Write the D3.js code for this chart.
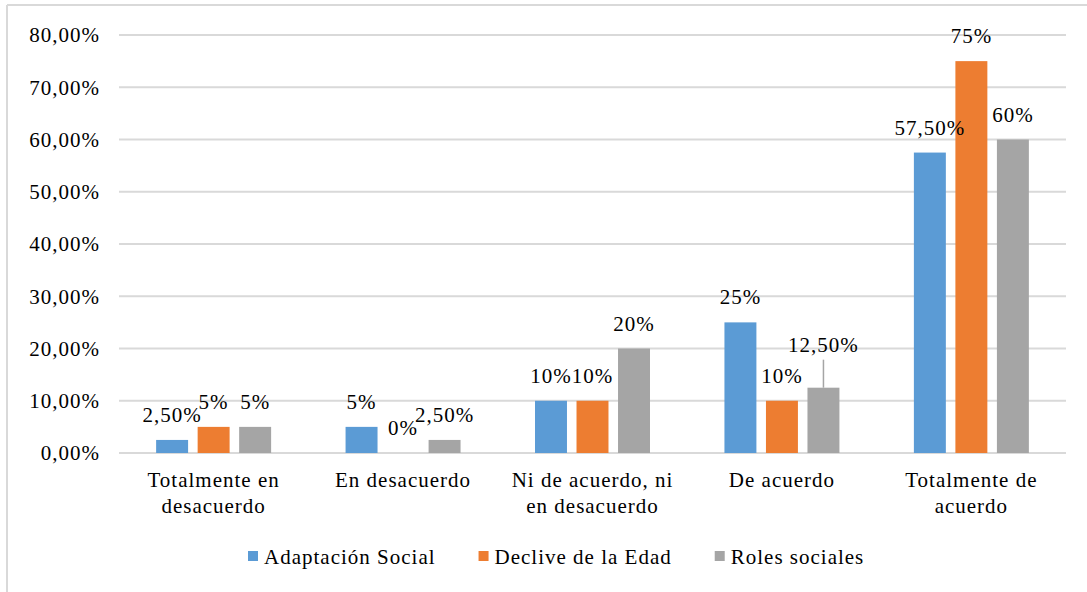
<!DOCTYPE html>
<html>
<head>
<meta charset="utf-8">
<script src="https://cdn.jsdelivr.net/npm/d3@7"></script>
</head>
<body style="margin:0;background:#fff">
<script>
// data
var categories=[['Totalmente en','desacuerdo'],['En desacuerdo'],['Ni de acuerdo, ni','en desacuerdo'],['De acuerdo'],['Totalmente de','acuerdo']];
var series=['Adaptación Social','Declive de la Edad','Roles sociales'];
var colors=['#5b9bd5','#ed7d31','#a5a5a5'];
var adaptacion=[2.5,5,10,25,57.5];
var declive=[5,0,10,10,75];
var roles=[5,2.5,20,12.5,60];
var yticks=[0,10,20,30,40,50,60,70,80];
var values=[adaptacion,declive,roles];
// layout
var wid=1087, hgh=592;
var pleft=119, pright=1066, ptop=35, pbottom=453;
var movedlab={s:2,c:3,lift:18}; // label pulled up with leader line

var svg=d3.select('body').append('svg').attr('width',wid).attr('height',hgh)
  .style('font-family',"'Liberation Serif','Times New Roman',Tinos,serif")
  .style('font-size','21px').style('letter-spacing','1px');
// outer frame (top + left only visible)
svg.append('line').attr('x1',7).attr('y1',5).attr('x2',wid).attr('y2',5).attr('stroke','#d9d9d9').attr('stroke-width',2);
svg.append('line').attr('x1',7).attr('y1',5).attr('x2',7).attr('y2',hgh).attr('stroke','#d9d9d9').attr('stroke-width',2);

var y=d3.scaleLinear().domain([0,80]).range([pbottom,ptop]);
var x0=d3.scaleBand().domain(d3.range(categories.length)).range([pleft,pright]).paddingInner(0.393).paddingOuter(0.196);
var x1=d3.scaleBand().domain(d3.range(series.length)).range([0,x0.bandwidth()]).paddingInner(0.23).paddingOuter(0);

// gridlines
svg.selectAll('line.grid').data(yticks).enter().append('line').attr('class','grid')
  .attr('x1',pleft).attr('x2',pright).attr('y1',function(d){return y(d);}).attr('y2',function(d){return y(d);})
  .attr('stroke','#d9d9d9').attr('stroke-width',2);
// y tick labels
svg.selectAll('text.ytick').data(yticks).enter().append('text').attr('class','ytick')
  .attr('x',100).attr('y',function(d){return y(d);}).attr('dy','0.35em').attr('text-anchor','end')
  .text(function(d){return d.toFixed(2).replace('.',',')+'%';});

function fmt(v){return (v%1===0?v:v.toFixed(2).replace('.',','))+'%';}

var cells=[];
values.forEach(function(arr,s){arr.forEach(function(v,c){cells.push({s:s,c:c,v:v});});});
function bx(d){return x0(d.c)+x1(d.s);}
// bars
svg.selectAll('rect.bar').data(cells.filter(function(d){return d.v>0;})).enter().append('rect').attr('class','bar')
  .attr('x',bx).attr('width',x1.bandwidth())
  .attr('y',function(d){return y(d.v);}).attr('height',function(d){return pbottom-y(d.v);})
  .attr('fill',function(d){return colors[d.s];});
// data labels
function ismoved(d){return d.s===movedlab.s&&d.c===movedlab.c;}
svg.selectAll('text.lab').data(cells).enter().append('text').attr('class','lab')
  .attr('x',function(d){return bx(d)+x1.bandwidth()/2;})
  .attr('y',function(d){return y(d.v)-18-(ismoved(d)?movedlab.lift:0);})
  .attr('text-anchor','middle').text(function(d){return fmt(d.v);});
// leader line
cells.filter(ismoved).forEach(function(d){
 var cx=bx(d)+x1.bandwidth()/2;
 svg.append('line').attr('x1',cx).attr('x2',cx).attr('y1',y(d.v)-18-movedlab.lift+8).attr('y2',y(d.v))
   .attr('stroke','#a5a5a5').attr('stroke-width',1.5);
});
// category labels
var cat=svg.selectAll('text.cat').data(categories).enter().append('text').attr('class','cat')
  .attr('text-anchor','middle');
cat.selectAll('tspan').data(function(d,i){return d.map(function(t){return {t:t,i:i};});}).enter().append('tspan')
  .attr('x',function(d){return x0(d.i)+x0.bandwidth()/2;})
  .attr('y',function(d,j){return 487+j*26;})
  .text(function(d){return d.t;});
// legend
var lg=svg.append('g');
var lx=248;
series.forEach(function(name,i){
 lg.append('rect').attr('x',lx).attr('y',551).attr('width',10).attr('height',10).attr('fill',colors[i]);
 var t=lg.append('text').attr('x',lx+16).attr('y',564).text(name);
 lx+=16+t.node().getComputedTextLength()+43;
});
</script>
</body>
</html>
